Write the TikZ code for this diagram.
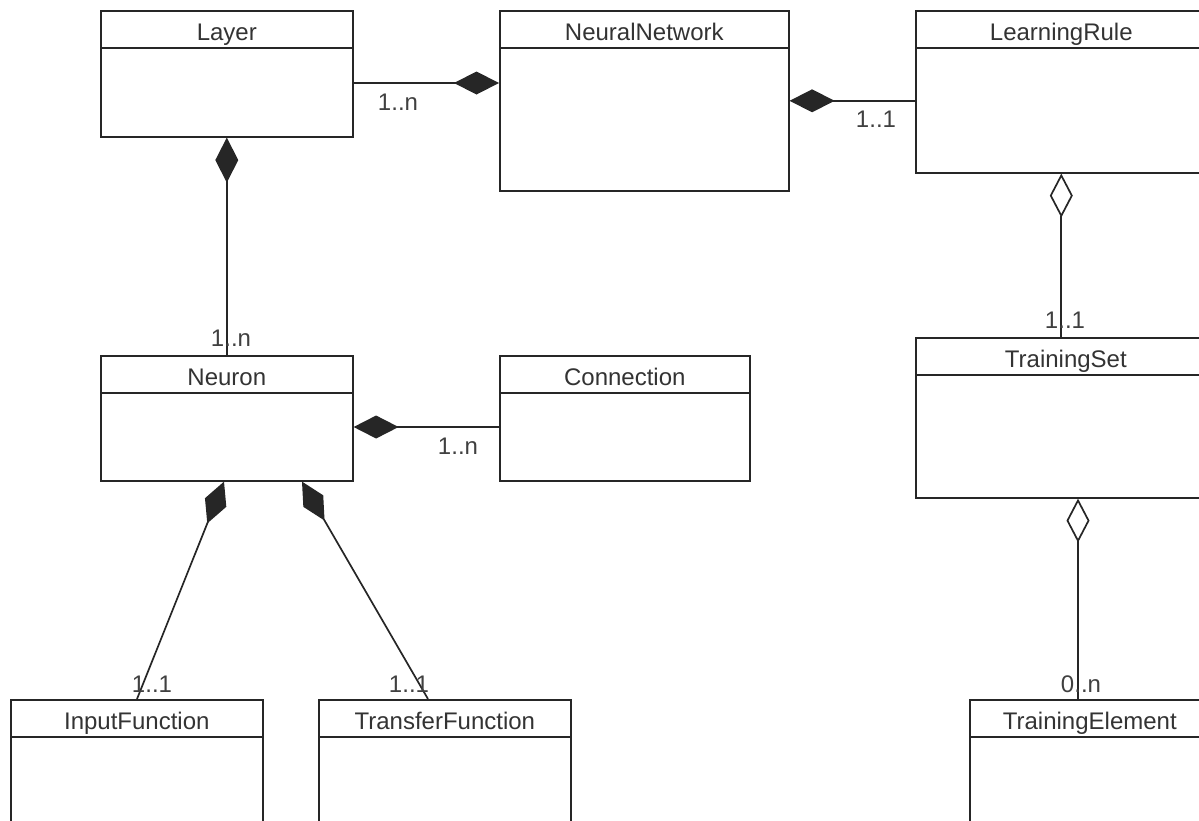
\documentclass[tikz,border=0pt]{standalone}
\usepackage{fontspec}
\setmainfont{Liberation Sans}
\usetikzlibrary{arrows.meta}

\tikzset{
  cls/.style={draw=black!85, line width=1.6pt, anchor=north west, inner sep=0pt,
    minimum width=252pt, minimum height=#1,
    path picture={\draw[line width=1.6pt, black!85]
      ([yshift=-37pt]path picture bounding box.north west) --
      ([yshift=-37pt]path picture bounding box.north east);}},
  ttl/.style={anchor=base, text=black!80, font=\fontsize{24}{28}\selectfont},
  mult/.style={text=black!75, font=\fontsize{24}{28}\selectfont, inner sep=0pt},
  link/.style={draw=black!85, line width=1.7pt},
  comp/.style={link, {Diamond[length=45pt, width=23pt]}-},
  aggr/.style={link, {Diamond[open, length=44pt, width=23pt, fill=white]}-},
}

\begin{document}
\begin{tikzpicture}[x=1pt, y=-1pt]
  \useasboundingbox (0,0) rectangle (1199,820);
  \clip (0,0) rectangle (1199,820);

  % classes
  \node[cls=126pt] (layer) at (100,10) {};
  \node[cls=180pt, minimum width=289pt] (nn) at (499,10) {};
  \node[cls=162pt, minimum width=291pt] (rule) at (915,10) {};
  \node[cls=125pt] (neuron) at (100,355) {};
  \node[cls=125pt, minimum width=250pt] (conn) at (499,355) {};
  \node[cls=160pt, minimum width=300pt] (tset) at (915,337) {};
  \node[cls=160pt] (infn) at (10,699) {};
  \node[cls=160pt] (trfn) at (318,699) {};
  \node[cls=160pt, minimum width=240pt] (telem) at (969,699) {};

  \node[ttl] (layer-t) at ([yshift=-30pt]layer.north) {Layer};
  \node[ttl] (nn-t) at ([yshift=-30pt]nn.north) {NeuralNetwork};
  \node[ttl] (rule-t) at ([yshift=-30pt]rule.north) {LearningRule};
  \node[ttl] (neuron-t) at ([yshift=-30pt]neuron.north) {Neuron};
  \node[ttl] (conn-t) at ([yshift=-30pt]conn.north) {Connection};
  \node[ttl] (tset-t) at ([yshift=-30pt]tset.north) {TrainingSet};
  \node[ttl] (infn-t) at ([yshift=-30pt]infn.north) {InputFunction};
  \node[ttl] (trfn-t) at ([yshift=-30pt]trfn.north) {TransferFunction};
  \node[ttl] (telem-t) at ([yshift=-30pt]telem.north) {TrainingElement};

  % associations
  \draw[comp] (nn.west |- 0,83) -- (layer.east |- 0,83);
  \draw[comp] (nn.east) -- (rule.west |- nn.east);
  \draw[comp] (layer.south) -- (neuron.north);
  \draw[comp] (neuron.east |- 0,427) -- (conn.west |- 0,427);
  \draw[comp] (neuron.south -| 224,0) -- (infn.north -| 137,0);
  \draw[comp] (neuron.south -| 302,0) -- (trfn.north -| 428,0);
  \draw[aggr] (rule.south) -- (tset.north -| rule.south);
  \draw[aggr] (tset.south -| 1078,0) -- (telem.north -| 1078,0);

  % multiplicities
  \node[mult] (m1) at (398,102) {1..n};
  \node[mult] (m2) at (876,119) {1..1};
  \node[mult] (m3) at (1065,320) {1..1};
  \node[mult] (m4) at (231,338) {1..n};
  \node[mult] (m5) at (458,446) {1..n};
  \node[mult] (m6) at (1081,684) {0..n};
  \node[mult] (m7) at (152,684) {1..1};
  \node[mult] (m8) at (409,684) {1..1};
\end{tikzpicture}
\end{document}
